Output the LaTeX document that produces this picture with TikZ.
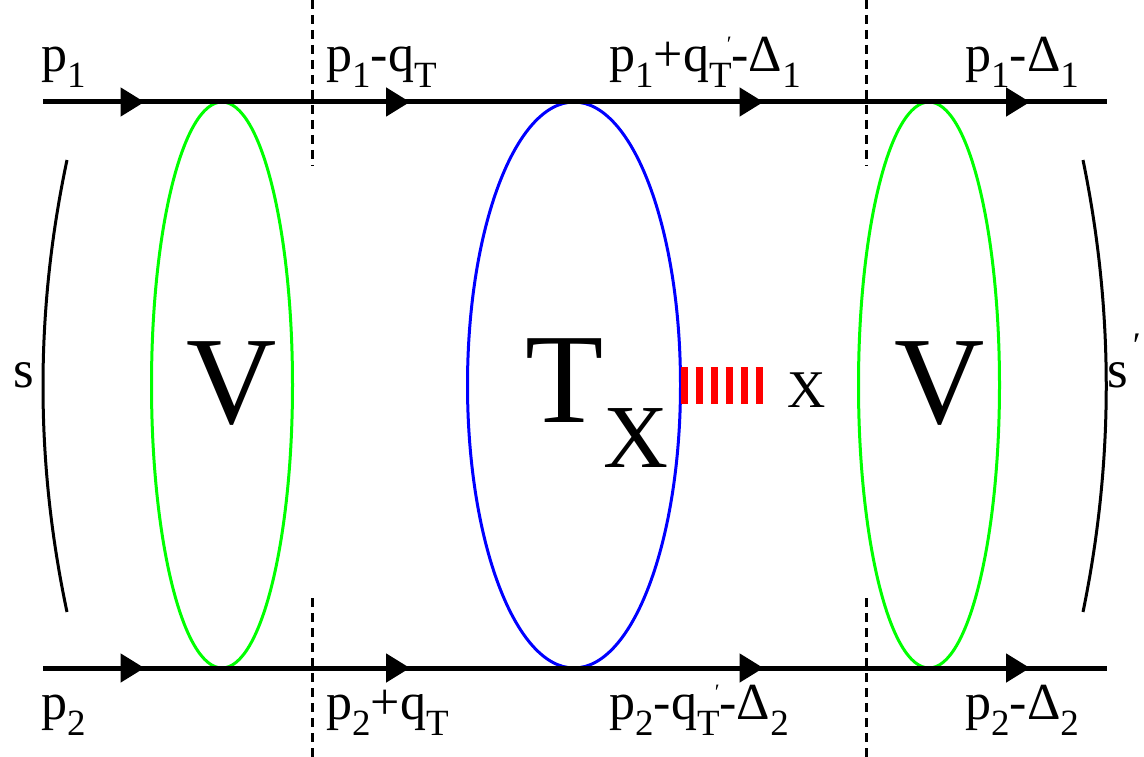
\documentclass[tikz,border=0pt]{standalone}
\usepackage{fontspec}
\setmainfont{Liberation Serif}
\usetikzlibrary{arrows.meta, calc, shapes.geometric}
\definecolor{figgreen}{HTML}{00FF00}
\definecolor{figblue}{HTML}{0000FF}
\definecolor{figred}{HTML}{FF0000}
\newcommand\lsub[1]{\raisebox{-16pt}{\fontsize{37}{37}\selectfont #1}}
\newcommand\lprime{\llap{\raisebox{20pt}{\fontsize{22}{22}\selectfont ′}}}
\tikzset{
  leg/.style={line width=5pt, black},
  legtip/.style={leg, -{Triangle[length=24pt, width=28pt]}},
  blob/.style={ellipse, draw, line width=3pt, inner sep=0pt, outer sep=0pt, minimum height=566pt},
  vblob/.style={blob, draw=figgreen, minimum width=141pt},
  tblob/.style={blob, draw=figblue, minimum width=213pt},
  cut/.style={line width=3pt, dash pattern=on 9pt off 6pt},
  paren/.style={line width=3pt},
  ray/.style={figred, line width=37pt, dash pattern=on 7pt off 8pt, shorten >=23pt},
  mlabel/.style={anchor=base west, inner sep=0pt, font=\fontsize{52}{52}\selectfont},
  slabel/.style={anchor=base west, inner sep=0pt, font=\fontsize{53}{53}\selectfont},
  biglabel/.style={anchor=base west, inner sep=0pt, font=\fontsize{125}{125}\selectfont},
}
\begin{document}
\begin{tikzpicture}[x=1pt, y=-1pt]
  \useasboundingbox (0,0) rectangle (1144,757);
  \node[vblob] (vl) at (222,385) {};
  \node[tblob] (tx) at (574,385) {};
  \node[vblob] (vr) at (929,385) {};
  \coordinate (a1) at (43,102);
  \coordinate (a2) at (1107,102);
  \coordinate (b1) at (43,668);
  \coordinate (b2) at (1107,668);
  \foreach \a/\b in {a1/vl.north, vl.north/tx.north, tx.north/vr.north, vr.north/a2,
      b1/vl.south, vl.south/tx.south, tx.south/vr.south, vr.south/b2} {
    \draw[leg] (\a) -- (\b);
    \draw[legtip] (\a) -- ($(\a)!.5!(\b)+(12,0)$);
  }
  \foreach \n/\x in {c1/312, c2/866} {
    \coordinate (\n t) at (\x,0);
    \coordinate (\n u) at (\x,166);
    \coordinate (\n d) at (\x,598);
    \coordinate (\n b) at (\x,757);
    \draw[cut] (\n t) -- (\n u);
    \draw[cut] (\n d) -- (\n b);
  }
  \coordinate (lp1) at (67,160);
  \coordinate (lp2) at (67,612);
  \coordinate (rp1) at (1083,160);
  \coordinate (rp2) at (1083,612);
  \draw[paren] (lp1) .. controls (35,311) and (35,461) .. (lp2);
  \draw[paren] (rp1) .. controls (1114,311) and (1114,461) .. (rp2);
  \node[slabel] (s) at (13,387) {s};
  \node[slabel] (sp) at (1107,387) {s\kern5pt\raisebox{30pt}{\fontsize{36}{36}\selectfont ′}};
  \node[biglabel] (vlab1) at (186,423) {V};
  \node[biglabel] (vlab2) at (894,423) {V};
  \node[biglabel, font=\fontsize{128}{128}\selectfont] (tlab) at (525,422) {T\raisebox{-45pt}{\fontsize{90}{90}\selectfont X}};
  \node[slabel] (xp) at (787,407) {X};
  \draw[ray] (tx.east) -- (tx.east -| xp.west);
  \node[mlabel] (la) at (41,72) {p\lsub{1}};
  \node[mlabel] (lb) at (326,72) {p\lsub{1}-q\lsub{T}};
  \node[mlabel] (lc) at (609,72) {p\lsub{1}+q\lsub{T}\lprime-Δ\lsub{1}};
  \node[mlabel] (ld) at (965,72) {p\lsub{1}-Δ\lsub{1}};
  \node[mlabel] (le) at (41,719) {p\lsub{2}};
  \node[mlabel] (lf) at (326,719) {p\lsub{2}+q\lsub{T}};
  \node[mlabel] (lg) at (609,719) {p\lsub{2}-q\lsub{T}\lprime-Δ\lsub{2}};
  \node[mlabel] (lh) at (965,719) {p\lsub{2}-Δ\lsub{2}};
\end{tikzpicture}
\end{document}
